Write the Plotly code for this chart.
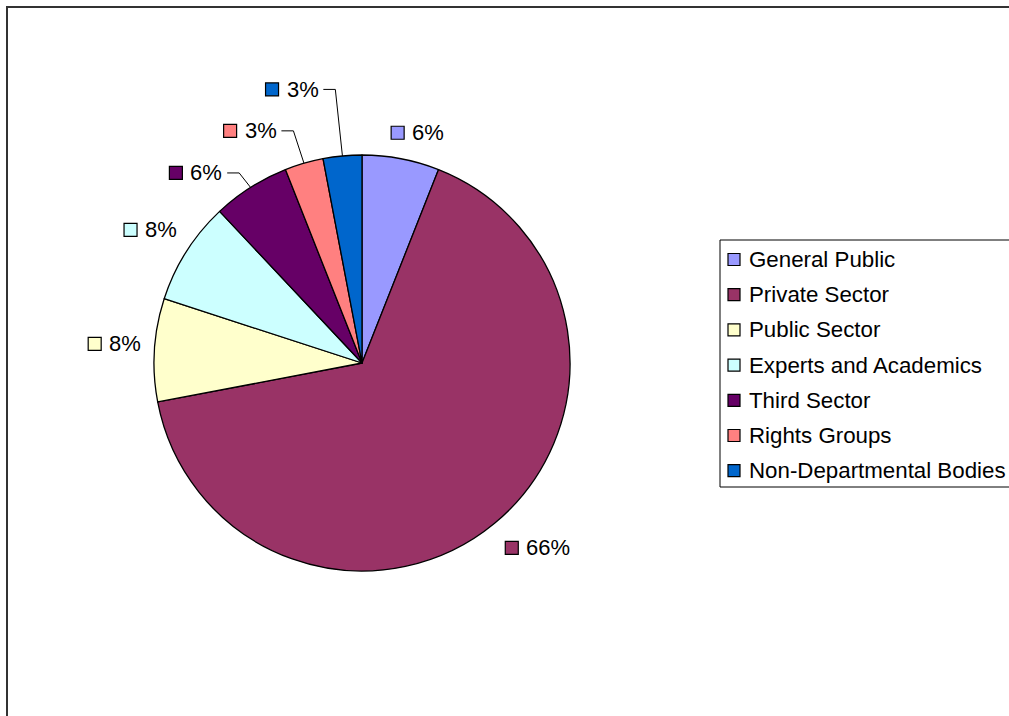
import math
import plotly.graph_objects as go

# ---- data ----
categories = ["General Public", "Private Sector", "Public Sector", "Experts and Academics",
              "Third Sector", "Rights Groups", "Non-Departmental Bodies"]
shares = [6, 66, 8, 8, 6, 3, 3]
colors = ["#9999FF", "#993366", "#FFFFCC", "#CCFFFF", "#660066", "#FF8080", "#0066CC"]

# ---- layout / style ----
W, H = 1009, 716
CX, CY, R = 362, 363, 208
label_extra_r = [25, 30, 60, 59, 58, 59, 80]
label_dang = [-2, 0.6, 0.5, -2.5, -12, -13.4, -12.8]
use_leader = [False, False, False, False, True, True, True]
FONT = "Liberation Sans, Arial, sans-serif"
FS = 22
LEG_FS = 22.3
SQ = 13
CHAR_W = {"0": .556, "1": .556, "2": .556, "3": .556, "4": .556, "5": .556,
          "6": .556, "7": .556, "8": .556, "9": .556, "%": .889}


def px(x):
    return x / W


def py(y):
    return 1 - y / H


fig = go.Figure()
fig.add_trace(go.Pie(
    values=shares, labels=categories, sort=False, direction="clockwise", rotation=0,
    marker=dict(colors=colors, line=dict(color="black", width=1.3)),
    textinfo="none", showlegend=False, hoverinfo="label+percent",
    domain=dict(x=[px(CX - R), px(CX + R)], y=[py(CY + R), py(CY - R)]),
))

shapes = []
annotations = []

# outer chart frame
shapes.append(dict(type="rect", xref="paper", yref="paper",
                   x0=px(7), y0=py(7), x1=px(W + 20), y1=py(H + 20),
                   line=dict(color="#333333", width=2), fillcolor="rgba(0,0,0,0)"))

# data labels
total = sum(shares)
cum = 0
for i, v in enumerate(shares):
    mid = (cum + v / 2) / total * 360
    cum += v
    ang = math.radians(mid + label_dang[i])
    r = R + label_extra_r[i]
    sx = CX + r * math.sin(ang)
    sy = CY - r * math.cos(ang)
    shapes.append(dict(type="rect", xref="paper", yref="paper",
                       x0=px(sx - SQ / 2), x1=px(sx + SQ / 2),
                       y0=py(sy - SQ / 2), y1=py(sy + SQ / 2),
                       fillcolor=colors[i], line=dict(color="black", width=1.2)))
    txt = f"{v}%"
    tx = sx + SQ / 2 + 7
    annotations.append(dict(xref="paper", yref="paper", x=px(tx), y=py(sy),
                            xanchor="left", yanchor="middle", showarrow=False,
                            text=txt, font=dict(family=FONT, size=FS, color="black"),
                            borderpad=0))
    if use_leader[i]:
        tw = sum(CHAR_W[c] for c in txt) * FS
        lx0 = tx + tw + 6
        lx1 = lx0 + 12
        ex = CX + R * math.sin(math.radians(mid))
        ey = CY - R * math.cos(math.radians(mid))
        path = f"M {px(lx0)},{py(sy)} L {px(lx1)},{py(sy)} L {px(ex)},{py(ey)}"
        shapes.append(dict(type="path", xref="paper", yref="paper", path=path,
                           line=dict(color="black", width=1)))

# legend
LX0, LY0, LX1, LY1 = 720, 240, W + 10, 487
shapes.append(dict(type="rect", xref="paper", yref="paper",
                   x0=px(LX0), y0=py(LY0), x1=px(LX1), y1=py(LY1),
                   line=dict(color="black", width=1), fillcolor="white"))
for i, name in enumerate(categories):
    ly = 259.5 + i * 35.2
    shapes.append(dict(type="rect", xref="paper", yref="paper",
                       x0=px(728), x1=px(740), y0=py(ly - 6), y1=py(ly + 6),
                       fillcolor=colors[i], line=dict(color="black", width=1.2)))
    annotations.append(dict(xref="paper", yref="paper", x=px(748), y=py(ly),
                            xanchor="left", yanchor="middle", showarrow=False,
                            text=name, font=dict(family=FONT, size=LEG_FS, color="black"),
                            borderpad=0))

fig.update_layout(
    width=W, height=H, margin=dict(l=0, r=0, t=0, b=0),
    paper_bgcolor="white", plot_bgcolor="white", showlegend=False,
    shapes=shapes, annotations=annotations,
)

fig.write_html(
    "out.html",
    config={"displayModeBar": False},
    post_script="document.body.style.margin='0';document.body.style.overflow='hidden';",
)
